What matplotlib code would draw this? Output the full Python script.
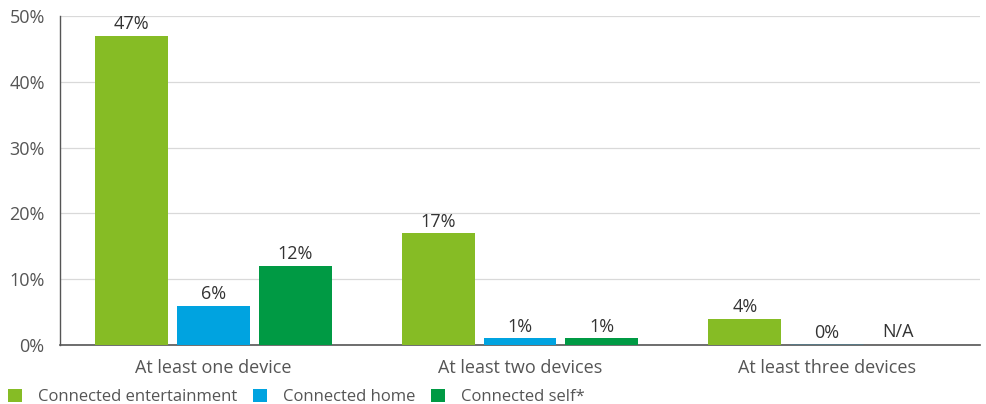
#!/usr/bin/env python3
# -*- coding: utf-8 -*-
"""Connected device ownership, grouped bar chart."""

import numpy as np
import matplotlib
matplotlib.use("Agg")
import matplotlib.pyplot as plt
from matplotlib.patches import Patch

# --------------------------
# data
# --------------------------
categories = ["At least one device", "At least two devices", "At least three devices"]
series_names = ["Connected entertainment", "Connected home", "Connected self*"]
entertainment = [47, 17, 4]
home = [6, 1, 0]
self_ = [12, 1, None]  # N/A for three devices
yticks = [0, 10, 20, 30, 40, 50]

colors = ["#86BC25", "#00A3E0", "#009A44"]

plt.rcParams["font.family"] = ["Open Sans", "DejaVu Sans"]
FS = 13

fig = plt.figure(figsize=(9.87, 4.04), dpi=100)
ax = fig.add_axes([60 / 987, 1 - 345 / 404, 920 / 987, 329 / 404])

x = np.arange(len(categories))
width = 0.238
step = 0.267

for i, (vals, col) in enumerate(zip([entertainment, home, self_], colors)):
    pos = x + (i - 1) * step
    for p, v in zip(pos, vals):
        if v is None:
            # no bar for this one, just a label a bit left of the slot
            ax.text(p - 0.035, 0.6, "N/A", ha="center", va="bottom", fontsize=FS, color="#333333")
            continue
        ax.bar(p, v, width, color=col, edgecolor=col if v == 0 else "none",
               linewidth=1.0 if v == 0 else 0, zorder=3)
        ax.text(p, v + 0.4, f"{v}%", ha="center", va="bottom", fontsize=FS, color="#333333")

ax.set_xlim(-0.5, 2.5)
ax.set_ylim(0, 50)
ax.set_yticks(yticks)
ax.set_yticklabels([f"{t}%" for t in yticks])
ax.set_xticks(x)
ax.set_xticklabels(categories)

ax.grid(axis="y", color="#d9d9d9", linewidth=0.9, zorder=0)
for s in ["top", "right"]:
    ax.spines[s].set_visible(False)
ax.spines["left"].set_color("#555555")
ax.spines["bottom"].set_color("#555555")
ax.spines["left"].set_linewidth(1.0)
ax.spines["bottom"].set_linewidth(1.2)
ax.tick_params(axis="both", length=0, labelsize=FS, colors="#555555")
ax.tick_params(axis="x", pad=10)
ax.tick_params(axis="y", pad=11)

handles = [Patch(facecolor=c, edgecolor="none") for c in colors]
fig.legend(handles, series_names, loc="center left", bbox_to_anchor=(8 / 987, 1 - 397 / 404),
           ncol=3, frameon=False, fontsize=12, handlelength=0.85, handleheight=0.85,
           columnspacing=0.95, handletextpad=0.95, borderpad=0, borderaxespad=0,
           labelcolor="#555555")

fig.savefig("out.png", dpi=100)
